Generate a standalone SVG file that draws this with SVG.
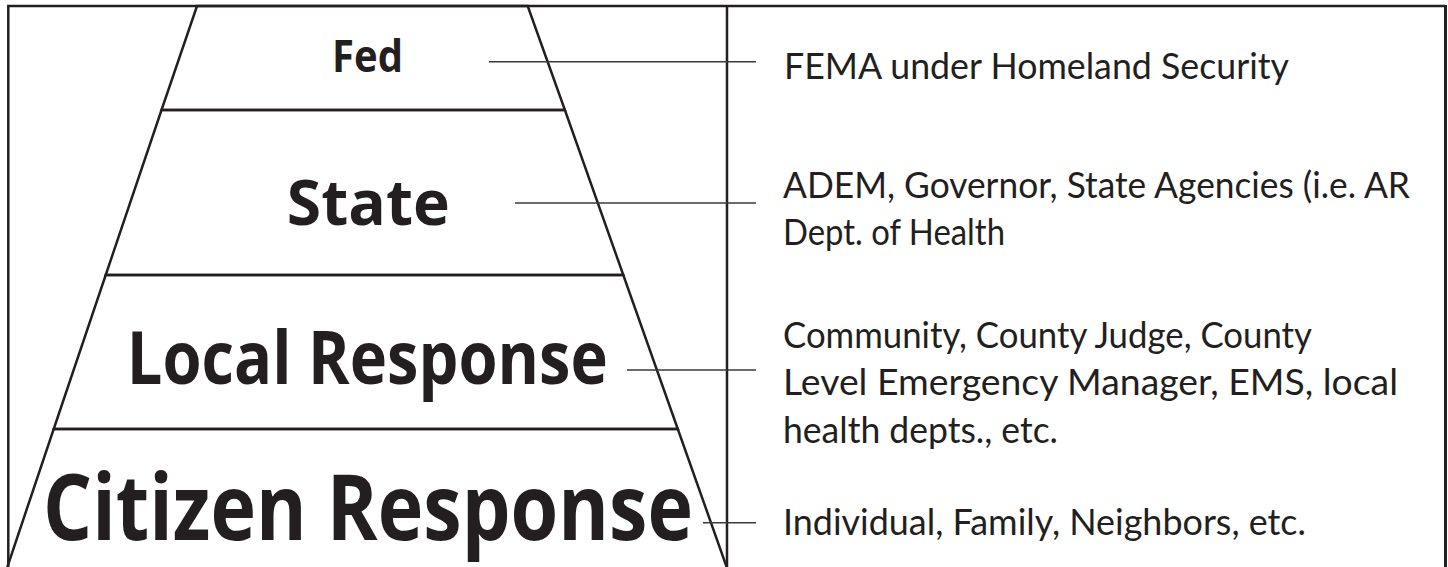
<svg xmlns="http://www.w3.org/2000/svg" width="1448" height="567" viewBox="0 0 1448 567">
  <style>
    .frame { fill: none; stroke: #231f20; stroke-width: 2.5; }
    .tier { fill: none; stroke: #231f20; stroke-width: 2.5; stroke-linejoin: miter; }
    .tier-label { font-family: "Open Sans", "Noto Sans", sans-serif; font-weight: 700; fill: #231f20; text-anchor: middle; }
    .desc { font-family: Lato, "Open Sans", sans-serif; font-weight: 400; font-size: 37px; fill: #231f20; }
    .conn { stroke: #3a3a3a; stroke-width: 1.4; fill: none; }
  </style>

  <rect x="0" y="0" width="1448" height="567" fill="#ffffff"/>

  <!-- outer frame and column divider -->
  <g id="frame">
    <path class="frame" d="M8.3,567 V6 H1445"/>
    <line x1="1445.5" y1="5" x2="1445.5" y2="567" stroke="#231f20" stroke-width="3"/>
    <line class="frame" x1="727" y1="6" x2="727" y2="567"/>
  </g>

  <!-- pyramid tiers, top to bottom -->
  <g id="tier-fed">
    <polygon class="tier" points="197,6 527.7,6 564.9,110 161.5,110"/>
    <text class="tier-label" x="367.5" y="71.7" font-size="44" textLength="71" lengthAdjust="spacingAndGlyphs">Fed</text>
  </g>
  <g id="tier-state">
    <polygon class="tier" points="161.5,110 564.9,110 623.3,275 105.7,275"/>
    <text class="tier-label" x="368.3" y="225" font-size="62" textLength="163" lengthAdjust="spacingAndGlyphs">State</text>
  </g>
  <g id="tier-local">
    <polygon class="tier" points="105.7,275 623.3,275 677.8,429 53.7,429"/>
    <text class="tier-label" x="367.3" y="384" font-size="73" textLength="481" lengthAdjust="spacingAndGlyphs">Local Response</text>
  </g>
  <g id="tier-citizen">
    <!-- base tier runs off the bottom edge, so it has no closing line -->
    <polyline class="tier" points="7,568 53.7,429 677.8,429 727,568"/>
    <text class="tier-label" x="368" y="540" font-size="91" textLength="650" lengthAdjust="spacingAndGlyphs">Citizen Response</text>
  </g>

  <!-- descriptions in the right column -->
  <g id="desc-fed">
    <text class="desc" x="784" y="79" textLength="505" lengthAdjust="spacingAndGlyphs">FEMA under Homeland Security</text>
  </g>
  <g id="desc-state">
    <text class="desc" x="783" y="198" textLength="627" lengthAdjust="spacingAndGlyphs">ADEM, Governor, State Agencies (i.e. AR</text>
    <text class="desc" x="783" y="245" textLength="222" lengthAdjust="spacingAndGlyphs">Dept. of Health</text>
  </g>
  <g id="desc-local">
    <text class="desc" x="783" y="348" textLength="529" lengthAdjust="spacingAndGlyphs">Community, County Judge, County</text>
    <text class="desc" x="783" y="395" textLength="615" lengthAdjust="spacingAndGlyphs">Level Emergency Manager, EMS, local</text>
    <text class="desc" x="783" y="443" textLength="275" lengthAdjust="spacingAndGlyphs">health depts., etc.</text>
  </g>
  <g id="desc-citizen">
    <text class="desc" x="783" y="535" textLength="523" lengthAdjust="spacingAndGlyphs">Individual, Family, Neighbors, etc.</text>
  </g>

  <!-- leader lines from each tier to its description -->
  <g id="connectors">
    <line class="conn" x1="489" y1="61.7" x2="756" y2="61.7"/>
    <line class="conn" x1="515" y1="203" x2="756" y2="203"/>
    <line class="conn" x1="627" y1="370" x2="756" y2="370"/>
    <line class="conn" x1="703" y1="522.7" x2="756" y2="522.7"/>
  </g>
</svg>
